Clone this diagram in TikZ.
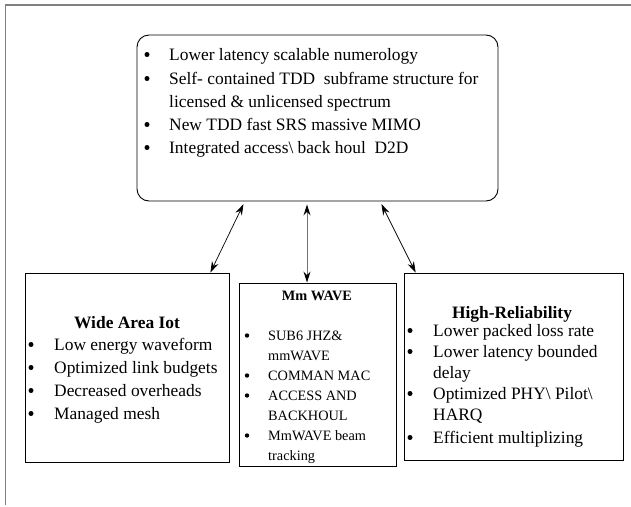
\documentclass[tikz,border=0pt]{standalone}
\usepackage{fontspec}
\setmainfont{Liberation Serif}
\usetikzlibrary{arrows.meta,calc}
\begin{document}
\begin{tikzpicture}[x=1pt,y=-1pt,
  frame/.style={draw=black!50, line width=1.4pt},
  box/.style={draw=black, line width=0.9pt, inner sep=0pt},
  big/.style={font=\fontsize{17.4}{20}\selectfont},
  small/.style={font=\fontsize{14.3}{18}\selectfont},
  txt/.style={anchor=base west, inner sep=0pt},
  bul/.style={circle, fill=black, inner sep=0pt, minimum size=5pt},
  sbul/.style={circle, fill=black, inner sep=0pt, minimum size=4.4pt},
  head/.style={anchor=base, inner sep=0pt},
  link/.style={line width=0.7pt, {Stealth[length=11pt,width=7pt]}-{Stealth[length=11pt,width=7pt]}},
  graylink/.style={line width=1pt, draw=black!55, {Stealth[length=11pt,width=7pt,color=black]}-{Stealth[length=11pt,width=7pt,color=black]}}
]
\useasboundingbox (0,0) rectangle (631,506);
\draw[frame] (5.5,505) -- (5.5,5) -- (631,5);

% boxes
\node[box, rounded corners=12pt, minimum width=361pt, minimum height=166pt] (top) at (317.5,118) {};
\node[box, minimum width=204pt, minimum height=189pt] (left) at (127,367.5) {};
\node[box, minimum width=157pt, minimum height=183pt] (mid) at (317.5,374.5) {};
\node[box, minimum width=219pt, minimum height=187pt] (right) at (513.5,366.5) {};

% top text
\node[bul] (tb1) at (147,54.5) {};
\node[txt,big] (tt1) at (169,60) {Lower latency scalable numerology};
\node[bul] (tb2) at (147,78.5) {};
\node[txt,big] (tt2) at (169,84) {Self- contained TDD\ \ subframe structure for};
\node[txt,big] (tt3) at (169,107) {licensed \& unlicensed spectrum};
\node[bul] (tb4) at (147,124.5) {};
\node[txt,big] (tt4) at (169,130) {New TDD fast SRS massive MIMO};
\node[bul] (tb5) at (147,147.5) {};
\node[txt,big] (tt5) at (169,153) {Integrated access\textbackslash\ back houl\ \ D2D};

% left text
\node[head,big] (lh) at (127,328) {\bfseries Wide Area Iot};
\node[bul] (lb1) at (31,344.5) {};
\node[txt,big] (lt1) at (54,350) {Low energy waveform};
\node[bul] (lb2) at (31,367.5) {};
\node[txt,big] (lt2) at (54,373) {Optimized link budgets};
\node[bul] (lb3) at (31,390.5) {};
\node[txt,big] (lt3) at (54,396) {Decreased overheads};
\node[bul] (lb4) at (31,413.5) {};
\node[txt,big] (lt4) at (54,419) {Managed mesh};

% middle text
\node[head,small] (mh) at (317,300) {\bfseries Mm WAVE};
\node[sbul] (mb1) at (247,335.5) {};
\node[txt,small] (mt1) at (268,340) {SUB6 JHZ\&};
\node[txt,small] (mt2) at (268,360) {mmWAVE};
\node[sbul] (mb3) at (247,375.5) {};
\node[txt,small] (mt3) at (268,380) {COMMAN MAC};
\node[sbul] (mb4) at (247,395.5) {};
\node[txt,small] (mt4) at (268,400) {ACCESS AND};
\node[txt,small] (mt5) at (268,420) {BACKHOUL};
\node[sbul] (mb6) at (247,435.5) {};
\node[txt,small] (mt6) at (268,440) {MmWAVE beam};
\node[txt,small] (mt7) at (268,460) {tracking};

% right text
\node[head,big] (rh) at (512,318) {\bfseries High-Reliability};
\node[bul] (rb1) at (410,330.5) {};
\node[txt,big] (rt1) at (433,336) {Lower packed loss rate};
\node[bul] (rb2) at (410,351.5) {};
\node[txt,big] (rt2) at (433,357) {Lower latency bounded};
\node[txt,big] (rt3) at (433,378) {delay};
\node[bul] (rb4) at (410,393.5) {};
\node[txt,big] (rt4) at (433,399) {Optimized PHY\textbackslash\ Pilot\textbackslash};
\node[txt,big] (rt5) at (433,420) {HARQ};
\node[bul] (rb6) at (410,437.5) {};
\node[txt,big] (rt6) at (433,443) {Efficient multiplizing};

% connectors
\coordinate (a1) at ($(top.south west)!0.299!(top.south east)$);
\coordinate (a2) at ($(left.north west)!0.907!(left.north east)$);
\draw[link, shorten <=3pt] (a1) -- (a2);
\coordinate (c1) at ($(top.south west)!0.471!(top.south east)$);
\draw[graylink, shorten <=3pt] (c1) -- (c1 |- mid.north);
\coordinate (b1) at ($(top.south west)!0.673!(top.south east)$);
\coordinate (b2) at ($(right.north west)!0.055!(right.north east)$);
\draw[link, shorten <=3pt] (b1) -- (b2);
\end{tikzpicture}
\end{document}
